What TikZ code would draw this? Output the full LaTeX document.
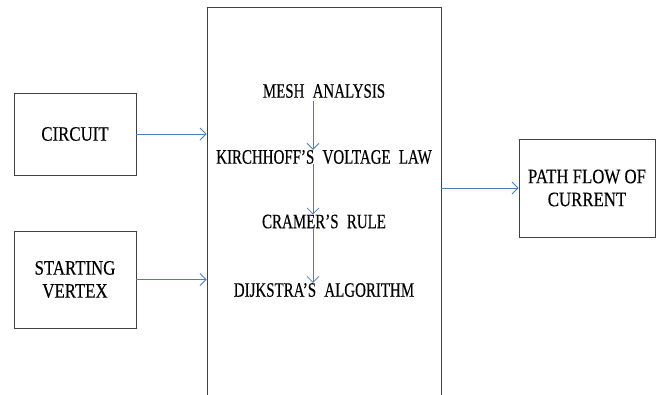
\documentclass[tikz,border=0pt]{standalone}
\usepackage{fontspec}
\setmainfont{Liberation Serif}
\newfontfamily\diagfont[FakeStretch=0.82,FakeBold=0.3]{Liberation Serif}
\newfontfamily\innerfont[FakeStretch=0.73,FakeBold=0.3,WordSpace={2.2,1,1}]{Liberation Serif}
\usetikzlibrary{arrows.meta}
\definecolor{arrowblue}{HTML}{4A7EBB}
\definecolor{boxgray}{HTML}{404040}
\tikzset{
  blockbox/.style={draw=boxgray, line width=0.9pt, inner sep=0pt, align=center,
    font=\diagfont\fontsize{20.5}{23}\selectfont},
  innertext/.style={inner sep=0pt, font=\innerfont\fontsize{20.5}{23}\selectfont},
  flowarrow/.style={draw=arrowblue, line width=0.8pt,
    -{Straight Barb[length=6pt,width=12pt,line width=0.8pt]}}
}
\begin{document}
\begin{tikzpicture}[x=1pt,y=-1pt]
\useasboundingbox (0,0) rectangle (660,394);
\clip (0,0) rectangle (660,394);
% blocks
\node[blockbox, minimum width=122pt, minimum height=82pt] (circuit) at (75,134) {CIRCUIT};
\node[blockbox, minimum width=122pt, minimum height=97pt] (start) at (75,279.5) {STARTING\\VERTEX};
\node[blockbox, minimum width=136pt, minimum height=98pt] (path) at (587,188) {PATH FLOW OF\\CURRENT};
% main block (open at the bottom edge of the picture)
\node[blockbox, minimum width=234pt, minimum height=395pt] (main) at (324,204.5) {};
% inner texts
\node[innertext] (mesh) at (324,91) {MESH ANALYSIS};
\node[innertext] (kvl) at (324,157) {KIRCHHOFF’S VOLTAGE LAW};
\node[innertext] (cramer) at (324,221.5) {CRAMER’S RULE};
\node[innertext] (dijk) at (324,290) {DIJKSTRA’S ALGORITHM};
\coordinate (ax) at (313,0);
% connectors
\draw[flowarrow] (circuit.east) -- (circuit.east -| main.west);
\draw[flowarrow] (start.east) -- (start.east -| main.west);
\draw[flowarrow] (path.west -| main.east) -- (path.west);
\draw[flowarrow] ([yshift=-3pt]mesh.south -| ax) -- (kvl.north -| ax);
\draw[flowarrow] (kvl.south -| ax) -- (cramer.north -| ax);
\draw[flowarrow] (cramer.south -| ax) -- (dijk.north -| ax);
\end{tikzpicture}
\end{document}
